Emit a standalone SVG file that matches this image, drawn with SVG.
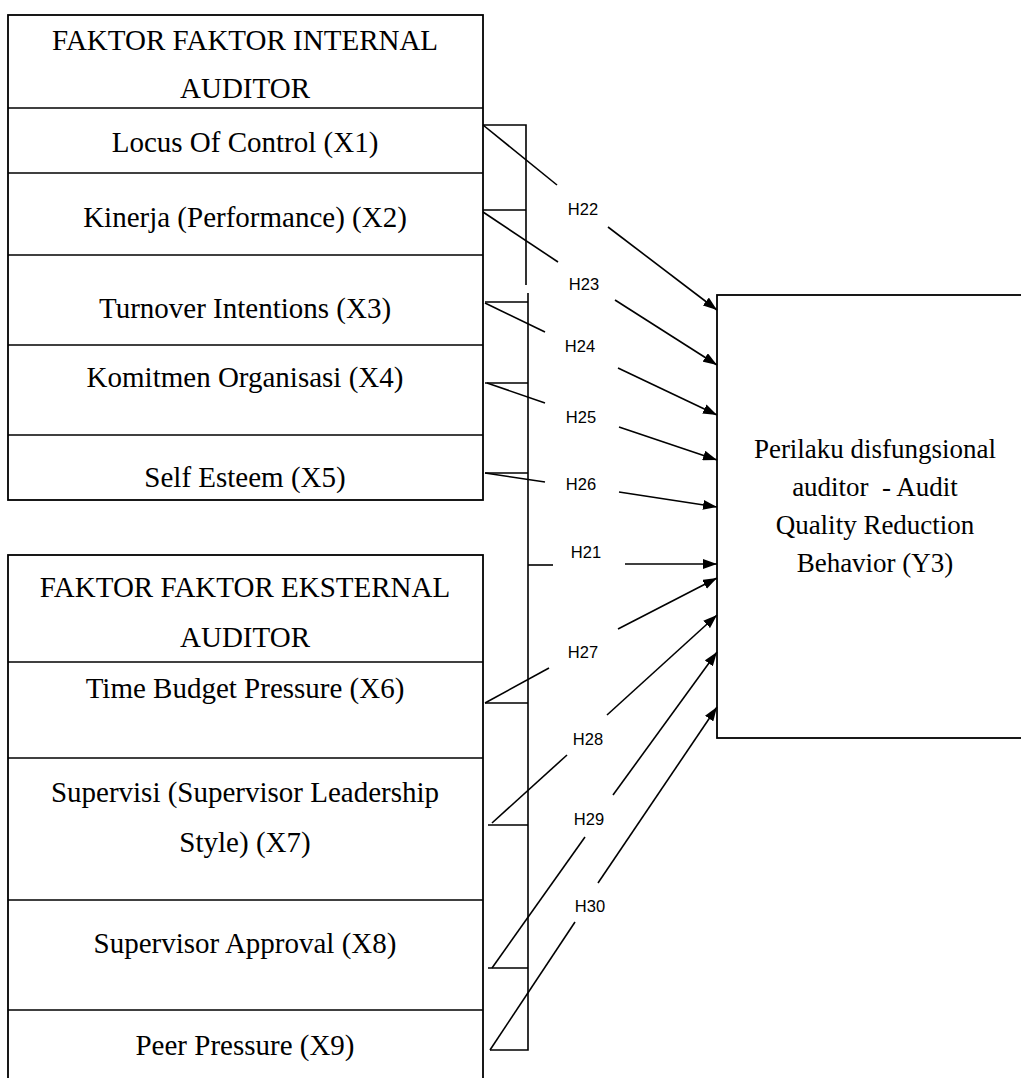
<svg xmlns="http://www.w3.org/2000/svg" width="1021" height="1078" viewBox="0 0 1021 1078">
<style>
.box{fill:#fff;stroke:#000;stroke-width:1.8}
.div{stroke:#000;stroke-width:1.6;fill:none}
.t{font-family:"Liberation Serif","Times New Roman",serif;font-size:29px;fill:#000;text-anchor:middle}
.ty{font-family:"Liberation Serif","Times New Roman",serif;font-size:27px;fill:#000;text-anchor:middle}
.c{stroke:#000;stroke-width:1.6;fill:none}
.a{stroke:#000;stroke-width:1.6;fill:none;marker-end:url(#ah)}
.h{font-family:"Liberation Sans",Arial,sans-serif;font-size:16.5px;fill:#000;text-anchor:middle}
</style>
<defs>
<marker id="ah" markerUnits="userSpaceOnUse" markerWidth="14" markerHeight="10" refX="14" refY="5" orient="auto">
<path d="M0,0 L14,5 L0,10 z" fill="#000"/>
</marker>
</defs>
<rect width="1021" height="1078" fill="#fff"/>

<g id="internal">
<rect class="box" x="8" y="15" width="475" height="485"/>
<g id="internal-header"><text class="t" x="245" y="50">FAKTOR FAKTOR INTERNAL</text><text class="t" x="245" y="98">AUDITOR</text></g>
<g id="x1"><line class="div" x1="8" y1="108" x2="483" y2="108"/><text class="t" x="245" y="152">Locus Of Control (X1)</text></g>
<g id="x2"><line class="div" x1="8" y1="173" x2="483" y2="173"/><text class="t" x="245" y="227">Kinerja (Performance) (X2)</text></g>
<g id="x3"><line class="div" x1="8" y1="255" x2="483" y2="255"/><text class="t" x="245" y="318">Turnover Intentions (X3)</text></g>
<g id="x4"><line class="div" x1="8" y1="345" x2="483" y2="345"/><text class="t" x="245" y="387">Komitmen Organisasi (X4)</text></g>
<g id="x5"><line class="div" x1="8" y1="435" x2="483" y2="435"/><text class="t" x="245" y="487">Self Esteem (X5)</text></g>
</g>

<g id="external">
<rect class="box" x="8" y="555" width="475" height="530"/>
<g id="external-header"><text class="t" x="245" y="597">FAKTOR FAKTOR EKSTERNAL</text><text class="t" x="245" y="647">AUDITOR</text></g>
<g id="x6"><line class="div" x1="8" y1="662" x2="483" y2="662"/><text class="t" x="245" y="698">Time Budget Pressure (X6)</text></g>
<g id="x7"><line class="div" x1="8" y1="758" x2="483" y2="758"/><text class="t" x="245" y="802">Supervisi (Supervisor Leadership</text><text class="t" x="245" y="852">Style) (X7)</text></g>
<g id="x8"><line class="div" x1="8" y1="900" x2="483" y2="900"/><text class="t" x="245" y="953">Supervisor Approval (X8)</text></g>
<g id="x9"><line class="div" x1="8" y1="1010" x2="483" y2="1010"/><text class="t" x="245" y="1055">Peer Pressure (X9)</text></g>
</g>

<g id="y3">
<rect class="box" x="717" y="295" width="330" height="443"/>
<text class="ty" x="875" y="458">Perilaku disfungsional</text>
<text class="ty" x="875" y="496" xml:space="preserve">auditor  - Audit</text>
<text class="ty" x="875" y="534">Quality Reduction</text>
<text class="ty" x="875" y="572">Behavior (Y3)</text>
</g>

<g id="connectors">
<path class="c" d="M483,125 H526 V285 M483,210 H526"/>
<path class="c" d="M528,293 V1050 H490 M485,302 H528 M485,383 H528 M485,473 H528 M485,703 H528 M488,825 H528 M488,968 H528"/>
<line class="c" x1="483" y1="125" x2="557" y2="185"/>
<line class="c" x1="483" y1="212" x2="558" y2="262"/>
<line class="c" x1="485" y1="303" x2="545" y2="332"/>
<line class="c" x1="487" y1="383" x2="545" y2="403"/>
<line class="c" x1="485" y1="473" x2="545" y2="482"/>
<line class="c" x1="528" y1="565" x2="553" y2="565"/>
<line class="c" x1="485" y1="703" x2="549" y2="668"/>
<line class="c" x1="492" y1="823" x2="567" y2="755"/>
<line class="c" x1="492" y1="968" x2="585" y2="837"/>
<line class="c" x1="490" y1="1050" x2="575" y2="922"/>
<line class="a" x1="608" y1="227" x2="717" y2="310"/>
<line class="a" x1="615" y1="300" x2="717" y2="365"/>
<line class="a" x1="618" y1="368" x2="717" y2="415"/>
<line class="a" x1="619" y1="427" x2="717" y2="460"/>
<line class="a" x1="619" y1="492" x2="717" y2="507"/>
<line class="a" x1="625" y1="564" x2="717" y2="564"/>
<line class="a" x1="618" y1="629" x2="717" y2="578"/>
<line class="a" x1="607" y1="715" x2="717" y2="615"/>
<line class="a" x1="613" y1="795" x2="717" y2="652"/>
<line class="a" x1="598" y1="883" x2="717" y2="707"/>
<text class="h" x="583" y="215">H22</text>
<text class="h" x="584" y="290">H23</text>
<text class="h" x="580" y="352">H24</text>
<text class="h" x="581" y="423">H25</text>
<text class="h" x="581" y="490">H26</text>
<text class="h" x="586" y="558">H21</text>
<text class="h" x="583" y="658">H27</text>
<text class="h" x="588" y="745">H28</text>
<text class="h" x="589" y="825">H29</text>
<text class="h" x="590" y="912">H30</text>
</g>
</svg>
